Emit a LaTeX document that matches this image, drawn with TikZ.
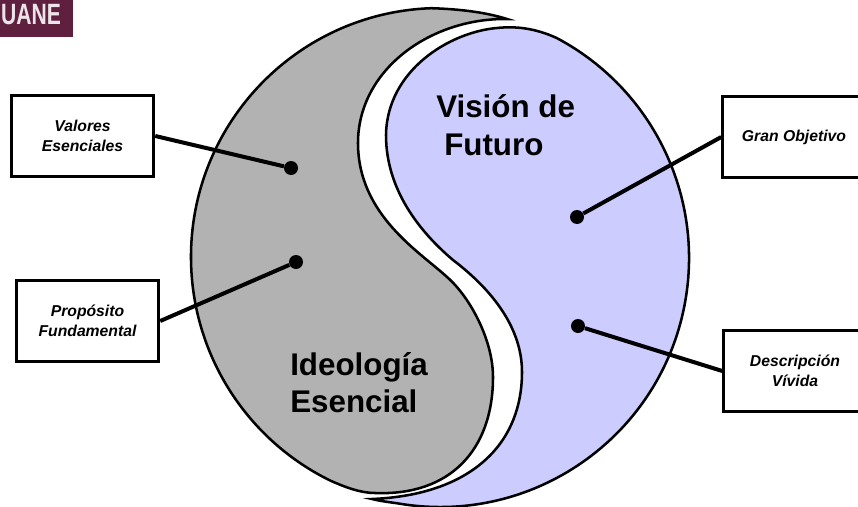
\documentclass[tikz,border=0pt]{standalone}
\usepackage{fontspec}
\setmainfont{Liberation Sans}
\usepackage{xcolor}
\usetikzlibrary{positioning,calc}
\definecolor{grayshape}{HTML}{B2B2B2}
\definecolor{blueshape}{HTML}{CCCCFF}
\definecolor{logobg}{HTML}{5F2040}
\tikzset{
  linebox/.style={draw=black,line width=2.1pt,fill=white,align=center,inner sep=0pt,minimum width=107pt,minimum height=61pt,font=\fontsize{11.8}{15}\selectfont\bfseries\itshape},
  dotnode/.style={circle,fill=black,inner sep=0pt,minimum size=10.5pt},
  bigtext/.style={font=\fontsize{23.5}{28}\selectfont\bfseries,align=left,inner sep=0pt},
  link/.style={line width=3pt},
  halfshape/.style={draw=black,line width=1.9pt,line join=miter}
}
\begin{document}
\begin{tikzpicture}[x=0.75pt,y=-0.75pt]
  \useasboundingbox (0,0) rectangle (858,507);
  % Logo
  \fill[logobg] (0,0) rectangle (73,37);
  \node[text=white!88!logobg,font=\fontsize{22}{22}\selectfont\bfseries,inner sep=0pt,xscale=0.72] (logo) at (31,15) {UANE};
  % Vision half
  \draw[halfshape,fill=blueshape] (372,499) .. controls (380,501) and (388,502) .. (396.8,503.2)
    arc[start angle=100,end angle=-62,radius=249]
    .. controls (535,28) and (515,26) .. (497,28)
    .. controls (450,32) and (387,70) .. (386,135)
    .. controls (386,190) and (420,232) .. (453,260)
    .. controls (495,292) and (522,330) .. (522,372)
    .. controls (522,445) and (470,495) .. (372,499) -- cycle;
  % Ideologia half
  \draw[halfshape,fill=grayshape] (507,19) .. controls (485,12) and (458,9) .. (431.3,8.2)
    arc[start angle=268,end angle=116,radius=249]
    .. controls (345,487) and (360,493) .. (375,493)
    .. controls (450,496) and (493,450) .. (493,377)
    .. controls (493,340) and (470,297) .. (447,277)
    .. controls (420,252) and (358,215) .. (358,143)
    .. controls (358,70) and (430,18) .. (507,19) -- cycle;
  % Titles
  \node[bigtext,anchor=north west] (vision) at (436,94) {Visión de\\[1pt]\hspace*{6pt}Futuro};
  \node[bigtext,anchor=north west] (ideologia) at (290,352) {Ideología\\Esencial};
  % Boxes
  \node[linebox] (valores) at (82.5,136) {Valores\\Esenciales};
  \node[linebox] (proposito) at (87.5,321) {Propósito\\Fundamental};
  \node[linebox] (objetivo) at (794,137) {Gran Objetivo};
  \node[linebox] (descripcion) at (795,371) {Descripción\\Vívida};
  % Dots
  \node[dotnode] (dotval) at (291,168) {};
  \node[dotnode] (dotpro) at (296,262) {};
  \node[dotnode] (dotobj) at (577,217) {};
  \node[dotnode] (dotdes) at (578,326) {};
  % Links
  \draw[link] (valores.east) -- (dotval);
  \draw[link] (proposito.east) -- (dotpro);
  \draw[link] (objetivo.west) -- (dotobj);
  \draw[link] (descripcion.west) -- (dotdes);
\end{tikzpicture}
\end{document}
